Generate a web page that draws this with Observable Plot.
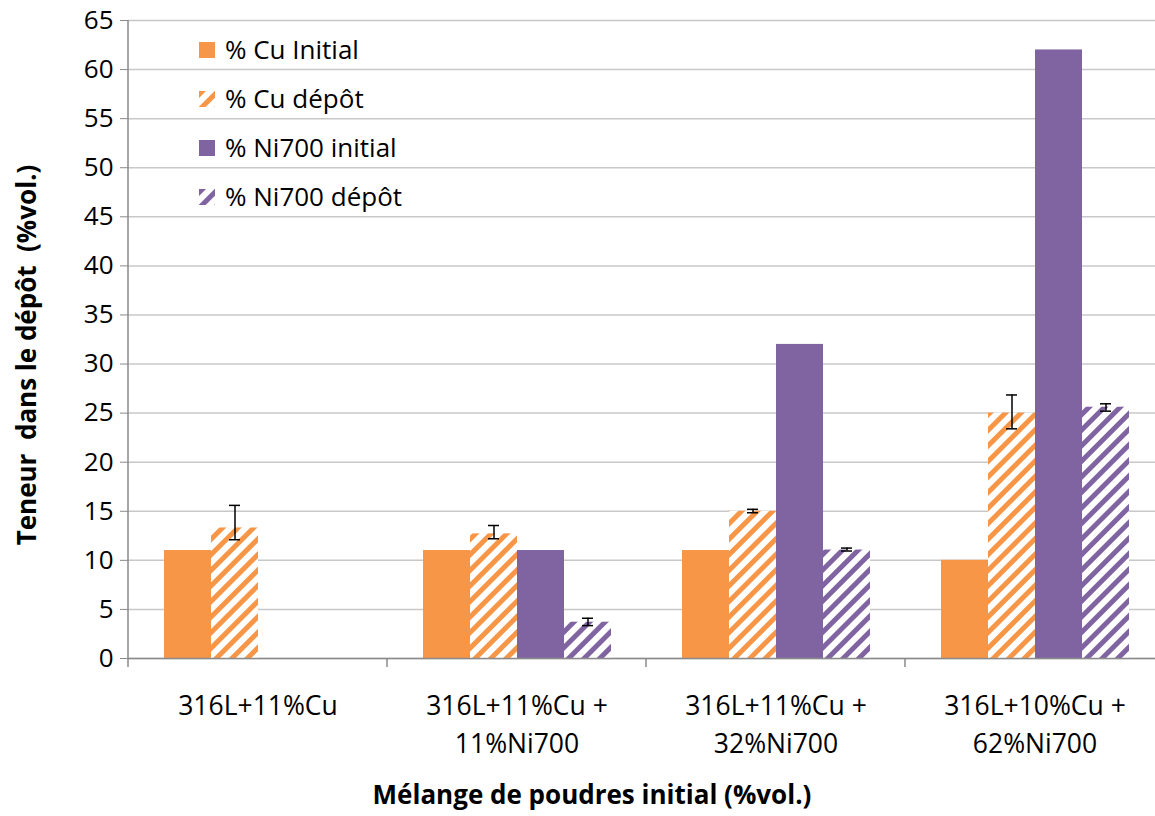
<!DOCTYPE html>
<html>
<head>
<meta charset="utf-8">
<script src="https://cdn.jsdelivr.net/npm/d3@7"></script>
<script src="https://cdn.jsdelivr.net/npm/@observablehq/plot@0.6"></script>
<style>
html, body { margin: 0; padding: 0; background: #fff; overflow: hidden; }
#wrap { position: relative; width: 1155px; height: 816px; overflow: hidden; background: #fff; }
#wrap svg { max-width: none !important; }
</style>
</head>
<body>
<div id="wrap"></div>
<script>
// ---- data ----
const groups = ["316L+11%Cu", "316L+11%Cu +\n11%Ni700", "316L+11%Cu +\n32%Ni700", "316L+10%Cu +\n62%Ni700"];
const seriesNames = ["% Cu Initial", "% Cu dépôt", "% Ni700 initial", "% Ni700 dépôt"];
const cuInitial   = [11, 11, 11, 10];
const cuDepot     = [13.3, 12.7, 15.0, 25.0];
const cuDepotLow  = [12.1, 12.2, 14.85, 23.4];
const cuDepotHigh = [15.6, 13.55, 15.2, 26.85];
const niInitial   = [null, 11, 32, 62];
const niDepot     = [null, 3.7, 11.05, 25.6];
const niDepotLow  = [null, 3.35, 10.95, 25.2];
const niDepotHigh = [null, 4.1, 11.25, 25.95];
const yTicks = [0, 5, 10, 15, 20, 25, 30, 35, 40, 45, 50, 55, 60, 65];
const xTitle = "Mélange de poudres initial (%vol.)";
const yTitle = "Teneur  dans le dépôt  (%vol.)";

// ---- styles ----
const ORANGE = "#F79646";
const PURPLE = "#8064A2";
const FONT = "'Open Sans', sans-serif";

// ---- table ----
const seriesValues = [cuInitial, cuDepot, niInitial, niDepot];
const seriesLow = [null, cuDepotLow, null, niDepotLow];
const seriesHigh = [null, cuDepotHigh, null, niDepotHigh];
const rows = [];
seriesNames.forEach((s, si) => {
  groups.forEach((g, gi) => {
    const v = seriesValues[si][gi];
    if (v == null) return;
    rows.push({
      group: g, series: s, value: v,
      lo: seriesLow[si] ? seriesLow[si][gi] : null,
      hi: seriesHigh[si] ? seriesHigh[si][gi] : null
    });
  });
});
const errRows = rows.filter(d => d.lo != null);
const fills = [ORANGE, "url(#hatchCu)", PURPLE, "url(#hatchNi)"];

const barMarks = seriesNames.map((s, si) =>
  Plot.barY(rows.filter(d => d.series === s), {
    fx: "group", x: "series", y: "value", fill: fills[si]
  })
);

const plot = Plot.plot({
  width: 1164,
  height: 816,
  marginLeft: 128,
  marginRight: 0,
  marginTop: 20,
  marginBottom: 158,
  style: { fontFamily: FONT, fontSize: "26px", background: "white", overflow: "visible", color: "#000", maxWidth: "none" },
  fx: { domain: groups, padding: 0, label: null },
  x: { domain: seriesNames, paddingInner: 0, paddingOuter: 0.73, axis: null },
  y: { domain: [0, 65], label: null },
  marks: [
    Plot.gridY(yTicks, { stroke: "#c8c8c8", strokeOpacity: 1, strokeWidth: 1.5 }),
    ...barMarks,
    Plot.ruleY([0], { stroke: "#8a8a8a", strokeWidth: 1.5 }),
    Plot.ruleX(errRows, { fx: "group", x: "series", y1: "lo", y2: "hi", stroke: "#000", strokeWidth: 1.5 }),
    Plot.tickY(errRows, { fx: "group", x: "series", y: "lo", insetLeft: 18, insetRight: 18, stroke: "#000", strokeWidth: 1.5 }),
    Plot.tickY(errRows, { fx: "group", x: "series", y: "hi", insetLeft: 18, insetRight: 18, stroke: "#000", strokeWidth: 1.5 }),
    Plot.axisY(yTicks, { tickSize: 8, tickPadding: 7, stroke: "#8a8a8a", fill: "#000", fontSize: 26, label: null }),
    Plot.axisFx({ anchor: "bottom", tickSize: 0, tickPadding: 30, fontSize: 26.5, lineHeight: 1.42, label: null })
  ]
});
plot.style.maxWidth = "none";
plot.style.width = "1164px";
plot.style.height = "816px";

document.getElementById("wrap").appendChild(plot);

// ---- patterns ----
const svg = d3.select(plot);
const defs = svg.insert("defs", ":first-child");
function hatch(id, color) {
  const p = defs.append("pattern")
    .attr("id", id)
    .attr("patternUnits", "userSpaceOnUse")
    .attr("width", 11).attr("height", 11)
    .attr("patternTransform", "rotate(45)");
  p.append("rect").attr("width", 11).attr("height", 11).attr("fill", "white");
  p.append("rect").attr("width", 5).attr("height", 11).attr("fill", color);
}
hatch("hatchCu", ORANGE);
hatch("hatchNi", PURPLE);

// ---- axis line and category separators from the scales ----
const fxs = plot.scale("fx");
const ys = plot.scale("y");
const fxBand = d3.scaleBand(fxs.domain, fxs.range).paddingInner(fxs.paddingInner || 0).paddingOuter(fxs.paddingOuter || 0);
const y0 = ys.apply(0), yTop = ys.apply(65);
const deco = svg.append("g").attr("stroke", "#8a8a8a").attr("stroke-width", 1.5);
deco.append("line").attr("x1", fxBand(groups[0])).attr("x2", fxBand(groups[0])).attr("y1", yTop).attr("y2", y0);
const bounds = groups.map(g => fxBand(g)).concat([fxBand(groups[groups.length - 1]) + fxBand.step()]);
bounds.forEach(xb => deco.append("line").attr("x1", xb).attr("x2", xb).attr("y1", y0).attr("y2", y0 + 9));

// ---- titles ----
svg.append("text")
  .attr("transform", `translate(27, ${(yTop + y0) / 2 + 16}) rotate(-90)`)
  .attr("text-anchor", "middle").attr("dy", "0.35em")
  .style("font-family", FONT).style("font-weight", "bold").style("font-size", "26px")
  .style("white-space", "pre")
  .text(yTitle);
svg.append("text")
  .attr("x", 592).attr("y", 804)
  .attr("text-anchor", "middle")
  .style("font-family", FONT).style("font-weight", "bold").style("font-size", "26px")
  .text(xTitle);

// ---- legend ----
const leg = svg.append("g").attr("transform", "translate(199, 42)");
seriesNames.forEach((s, i) => {
  const r = leg.append("g").attr("transform", `translate(0, ${i * 49})`);
  r.append("rect").attr("width", 16).attr("height", 16).attr("fill", fills[i]);
  r.append("text").attr("x", 26).attr("y", 17).attr("text-anchor", "start")
    .style("font-family", FONT).style("font-size", "26px").attr("fill", "#000")
    .text(s);
});
</script>
</body>
</html>
